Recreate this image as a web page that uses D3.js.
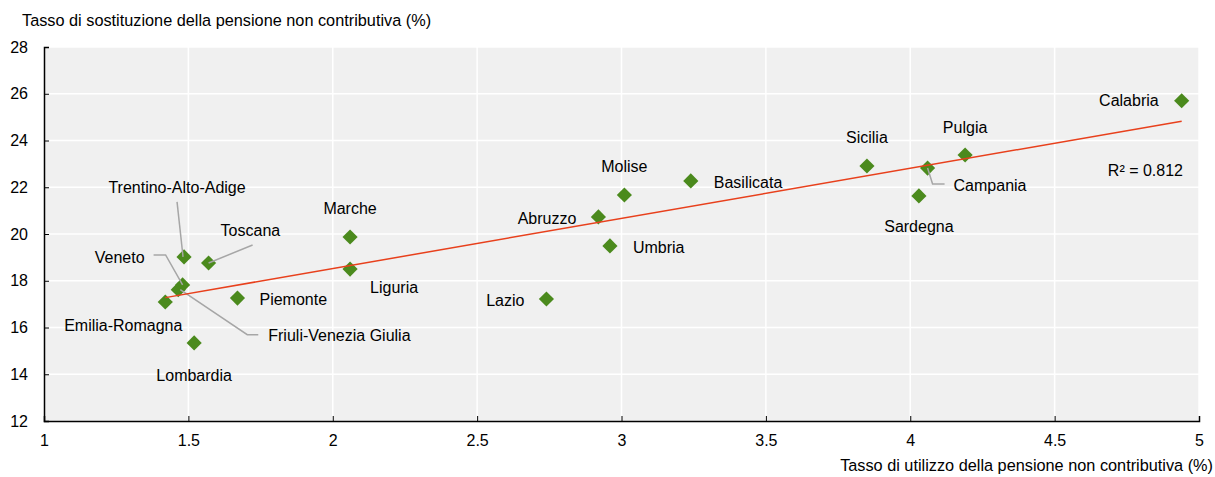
<!DOCTYPE html>
<html>
<head>
<meta charset="utf-8">
<script src="https://cdn.jsdelivr.net/npm/d3@7"></script>
<style>
  body { margin: 0; background: #fff; }
  svg { font-family: "Liberation Sans", Arial, sans-serif; }
</style>
</head>
<body>
<div id="chart"></div>
<script>
// Data
const regions = ["Calabria", "Pulgia", "Campania", "Sardegna", "Sicilia", "Basilicata", "Molise",
  "Abruzzo", "Umbria", "Lazio", "Marche", "Liguria", "Piemonte", "Toscana", "Trentino-Alto-Adige",
  "Veneto", "Friuli-Venezia Giulia", "Emilia-Romagna", "Lombardia"];
const utilizzo = [4.94, 4.19, 4.06, 4.03, 3.85, 3.24, 3.01, 2.92, 2.96, 2.74, 2.06, 2.06, 1.67, 1.57, 1.485,
  1.48, 1.465, 1.42, 1.52];
const sostituzione = [25.7, 23.38, 22.82, 21.63, 22.91, 22.27, 21.67, 20.73, 19.49, 17.22, 19.87, 18.5, 17.26, 18.76, 19.02,
  17.82, 17.62, 17.09, 15.34];
const xTicks = [1, 1.5, 2, 2.5, 3, 3.5, 4, 4.5, 5];
const yTicks = [12, 14, 16, 18, 20, 22, 24, 26, 28];
const r2Label = "R² = 0.812";

// label placement (pixel offsets from the marker)
const labelPos = {
  "Calabria": { dx: -23, dy: 0, a: "end" },
  "Pulgia": { dx: 0, dy: -28, a: "middle" },
  "Campania": { dx: 26, dy: 17, a: "start", leader: [[0, 0], [5, 16], [17, 16]] },
  "Sardegna": { dx: 0, dy: 31, a: "middle" },
  "Sicilia": { dx: 0, dy: -29, a: "middle" },
  "Basilicata": { dx: 23, dy: 1, a: "start" },
  "Molise": { dx: 0, dy: -29, a: "middle" },
  "Abruzzo": { dx: -22, dy: 1, a: "end" },
  "Umbria": { dx: 23, dy: 1, a: "start" },
  "Lazio": { dx: -22, dy: 1, a: "end" },
  "Marche": { dx: 0, dy: -29, a: "middle" },
  "Liguria": { dx: 20, dy: 18, a: "start" },
  "Piemonte": { dx: 22, dy: 1, a: "start" },
  "Toscana": { dx: 12, dy: -33, a: "start", leader: [[44, -18], [0, 0]] },
  "Trentino-Alto-Adige": { dx: -7, dy: -70, a: "middle", leader: [[-7, -55], [-1, 0]] },
  "Veneto": { dx: -38, dy: -28, a: "end", leader: [[-29, -30], [-17, -30], [0, 0]] },
  "Friuli-Venezia Giulia": { dx: 90, dy: 46, a: "start", leader: [[80, 45], [69, 45], [2, 0]] },
  "Emilia-Romagna": { dx: -42, dy: 23, a: "middle" },
  "Lombardia": { dx: 0, dy: 32, a: "middle" }
};

const width = 1215, height = 477;
const margin = { top: 47, right: 16, bottom: 56, left: 44 };

const svg = d3.select("#chart").append("svg")
  .attr("width", width)
  .attr("height", height);

const x = d3.scaleLinear().domain([1, 5]).range([margin.left, width - margin.right]);
const y = d3.scaleLinear().domain([12, 28]).range([height - margin.bottom, margin.top]);

// plot background
svg.append("rect")
  .attr("x", x(1)).attr("y", y(28))
  .attr("width", x(5) - x(1)).attr("height", y(12) - y(28))
  .attr("fill", "#f0f0f0");

// grid
svg.append("g").selectAll("line").data(xTicks.slice(1)).enter().append("line")
  .attr("x1", d => x(d)).attr("x2", d => x(d))
  .attr("y1", y(28)).attr("y2", y(12))
  .attr("stroke", "#fff").attr("stroke-width", 1.5);
svg.append("g").selectAll("line").data(yTicks.slice(1)).enter().append("line")
  .attr("x1", x(1)).attr("x2", x(5))
  .attr("y1", d => y(d)).attr("y2", d => y(d))
  .attr("stroke", "#fff").attr("stroke-width", 1.5);

// axes
const xAxis = svg.append("g")
  .attr("transform", `translate(0,${y(12)})`)
  .call(d3.axisBottom(x).tickValues(xTicks).tickSize(-5).tickPadding(14).tickFormat(d3.format("")));
const yAxis = svg.append("g")
  .attr("transform", `translate(${x(1)},0)`)
  .call(d3.axisLeft(y).tickValues(yTicks).tickSize(-5).tickPadding(16));
[xAxis, yAxis].forEach(g => {
  g.select(".domain").attr("stroke", "#000").attr("stroke-width", 1.5);
  g.selectAll(".tick line").attr("stroke", "#000").attr("stroke-width", 1);
  g.selectAll(".tick text").attr("font-size", 16).attr("fill", "#000")
    .attr("font-family", "'Liberation Sans', Arial, sans-serif");
});

// axis titles
svg.append("text")
  .attr("x", 22).attr("y", 26)
  .attr("font-size", 16.3)
  .text("Tasso di sostituzione della pensione non contributiva (%)");
svg.append("text")
  .attr("x", width - 2).attr("y", 471)
  .attr("text-anchor", "end")
  .attr("font-size", 16.3)
  .text("Tasso di utilizzo della pensione non contributiva (%)");

// points
const pts = regions.map((r, i) => ({ name: r, x: utilizzo[i], y: sostituzione[i] }));

svg.append("g").selectAll("path").data(pts).enter().append("path")
  .attr("d", d3.symbol(d3.symbolSquare, 115))
  .attr("transform", d => `translate(${x(d.x)},${y(d.y)}) rotate(45)`)
  .attr("fill", "#4b8a1d");

// leader lines
svg.append("g").selectAll("polyline").data(pts.filter(d => labelPos[d.name].leader)).enter()
  .append("polyline")
  .attr("points", d => labelPos[d.name].leader.map(p => [x(d.x) + p[0], y(d.y) + p[1]].join(",")).join(" "))
  .attr("fill", "none").attr("stroke", "#a6a6a6").attr("stroke-width", 1.5);

// trend line (least squares)
const mx = d3.mean(utilizzo), my = d3.mean(sostituzione);
const slope = d3.sum(utilizzo, (v, i) => (v - mx) * (sostituzione[i] - my)) / d3.sum(utilizzo, v => (v - mx) ** 2);
const icpt = my - slope * mx;
const xr = d3.extent(utilizzo);
svg.append("line")
  .attr("x1", x(xr[0])).attr("y1", y(icpt + slope * xr[0]))
  .attr("x2", x(xr[1])).attr("y2", y(icpt + slope * xr[1]))
  .attr("stroke", "#e8401c").attr("stroke-width", 1.5);

// labels
svg.append("g").selectAll("text").data(pts).enter().append("text")
  .attr("x", d => x(d.x) + labelPos[d.name].dx)
  .attr("y", d => y(d.y) + labelPos[d.name].dy)
  .attr("dy", "0.35em")
  .attr("text-anchor", d => labelPos[d.name].a)
  .attr("font-size", 16)
  .text(d => d.name);

svg.append("text")
  .attr("x", 1183).attr("y", 170).attr("dy", "0.35em")
  .attr("text-anchor", "end")
  .attr("font-size", 16)
  .text(r2Label);
</script>
</body>
</html>
